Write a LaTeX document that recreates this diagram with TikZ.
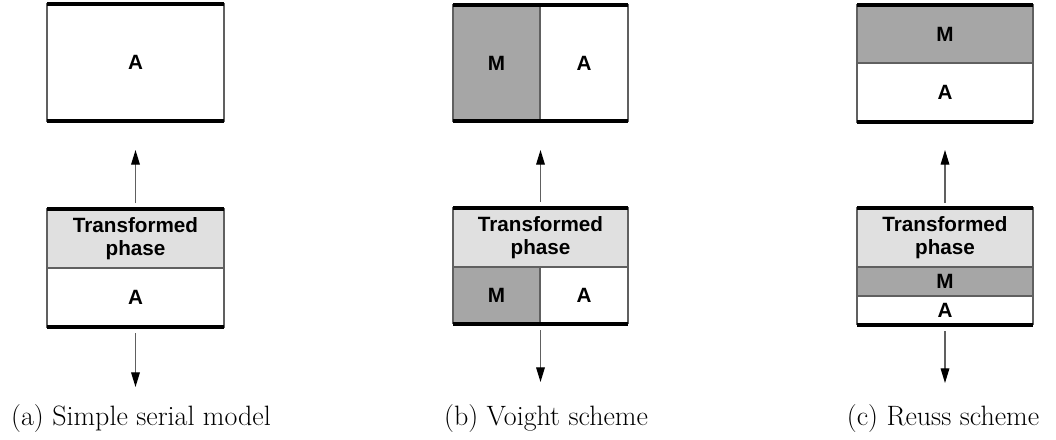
\documentclass[tikz,border=0pt]{standalone}
\usepackage{fontspec}
\newfontfamily\hvb{Liberation Sans}
\usetikzlibrary{fit,arrows.meta}
\definecolor{tpgray}{HTML}{E0E0E0}
\definecolor{mgray}{HTML}{A6A6A6}
\definecolor{edgegray}{HTML}{606060}
\tikzset{
  cell/.style={inner sep=0pt, outer sep=0pt, draw=edgegray, line width=1pt},
  tp/.style={cell, fill=tpgray},
  mm/.style={cell, fill=mgray},
  aa/.style={cell, fill=white},
  lbl/.style={font=\hvb\bfseries\fontsize{15.5}{17}\selectfont, align=center, inner sep=0pt},
  thick edge/.style={line width=3pt, black},
  flow/.style={draw=edgegray, line width=0.9pt, -{Triangle[length=11pt,width=6.5pt,fill=black,color=black]}},
  caption/.style={font=\fontsize{21}{24}\selectfont, anchor=base}
}
\begin{document}
\begin{tikzpicture}[x=0.75pt,y=-0.75pt]
\useasboundingbox (0,0) rectangle (1056,439);
% ---------- (a) ----------
\node[aa, fit={(47,4)(224,121)}] (aTop) {};
\node[lbl] (aTopL) at (aTop.center) {A};
\node[tp, fit={(47,209)(224,268)}] (aTP) {};
\node[lbl] (aTPL) at (aTP.center) {Transformed\\phase};
\node[aa, fit={(47,268)(224,327)}] (aA) {};
\node[lbl] (aAL) at (aA.center) {A};
\draw[thick edge] (aTop.north west) -- (aTop.north east);
\draw[thick edge] (aTop.south west) -- (aTop.south east);
\draw[thick edge] (aTP.north west) -- (aTP.north east);
\draw[thick edge] (aA.south west) -- (aA.south east);
\coordinate (aUpS) at (135.5,203);
\coordinate (aUpE) at (135.5,150);
\coordinate (aDnS) at (135.5,333);
\coordinate (aDnE) at (135.5,387);
\draw[flow] (aUpS) -- (aUpE);
\draw[flow] (aDnS) -- (aDnE);
\node[caption] (capA) at (141,425) {(a) Simple serial model};
% ---------- (b) ----------
\node[mm, fit={(453,5)(540,121)}] (bTopM) {};
\node[aa, fit={(540,5)(628,121)}] (bTopA) {};
\node[lbl] (bTopML) at (bTopM.center) {M};
\node[lbl] (bTopAL) at (bTopA.center) {A};
\node[tp, fit={(453,208)(628,267)}] (bTP) {};
\node[lbl] (bTPL) at (bTP.center) {Transformed\\phase};
\node[mm, fit={(453,267)(540,323.5)}] (bM) {};
\node[aa, fit={(540,267)(628,323.5)}] (bA) {};
\node[lbl] (bML) at (bM.center) {M};
\node[lbl] (bAL) at (bA.center) {A};
\draw[thick edge] (bTopM.north west) -- (bTopA.north east);
\draw[thick edge] (bTopM.south west) -- (bTopA.south east);
\draw[thick edge] (bTP.north west) -- (bTP.north east);
\draw[thick edge] (bM.south west) -- (bA.south east);
\coordinate (bUpS) at (540.5,202);
\coordinate (bUpE) at (540.5,150);
\coordinate (bDnS) at (540.5,330);
\coordinate (bDnE) at (540.5,382);
\draw[flow] (bUpS) -- (bUpE);
\draw[flow] (bDnS) -- (bDnE);
\node[caption] (capB) at (546,425) {(b) Voight scheme};
% ---------- (c) ----------
\node[mm, fit={(857,5)(1033,63)}] (cTopM) {};
\node[aa, fit={(857,63)(1033,122)}] (cTopA) {};
\node[lbl] (cTopML) at (cTopM.center) {M};
\node[lbl] (cTopAL) at (cTopA.center) {A};
\node[tp, fit={(857,208)(1033,267)}] (cTP) {};
\node[lbl] (cTPL) at (cTP.center) {Transformed\\phase};
\node[mm, fit={(857,267)(1033,296)}] (cM) {};
\node[aa, fit={(857,296)(1033,324.5)}] (cA) {};
\node[lbl] (cML) at (cM.center) {M};
\node[lbl] (cAL) at (cA.center) {A};
\draw[thick edge] (cTopM.north west) -- (cTopM.north east);
\draw[thick edge] (cTopA.south west) -- (cTopA.south east);
\draw[thick edge] (cTP.north west) -- (cTP.north east);
\draw[thick edge] (cA.south west) -- (cA.south east);
\coordinate (cUpS) at (945,203);
\coordinate (cUpE) at (945,150);
\coordinate (cDnS) at (945,331);
\coordinate (cDnE) at (945,383);
\draw[flow] (cUpS) -- (cUpE);
\draw[flow] (cDnS) -- (cDnE);
\node[caption] (capC) at (943,425) {(c) Reuss scheme};
\end{tikzpicture}
\end{document}
